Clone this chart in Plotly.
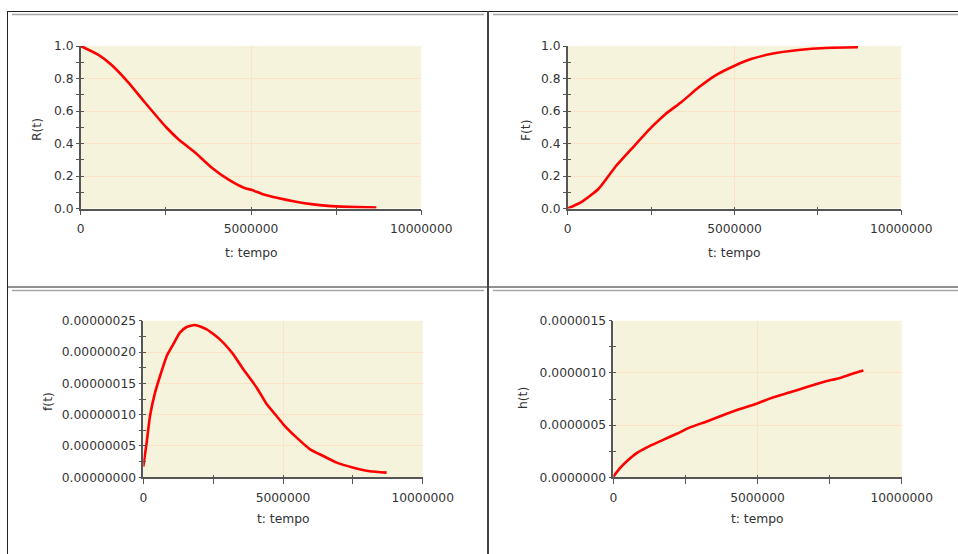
import plotly.graph_objects as go

# ---- data ----
t_R = [0, 0.51e6, 0.9e6, 1.39e6, 1.88e6, 2.51e6, 2.86e6, 3.35e6, 3.84e6, 4.32e6, 4.81e6, 5.01e6,
       5.4e6, 5.79e6, 6.28e6, 6.77e6, 7.26e6, 7.85e6, 8.68e6]
R_vals = [1.0, 0.947, 0.885, 0.778, 0.654, 0.500, 0.428, 0.346, 0.253, 0.181, 0.126, 0.115,
          0.084, 0.064, 0.043, 0.027, 0.016, 0.010, 0.006]

t_F = [0, 0.42e6, 0.92e6, 1.42e6, 1.92e6, 2.52e6, 2.92e6, 3.42e6, 3.92e6, 4.42e6, 5.02e6,
       5.52e6, 6.12e6, 6.92e6, 7.72e6, 8.7e6]
F_vals = [0.0, 0.041, 0.12, 0.254, 0.368, 0.502, 0.579, 0.657, 0.744, 0.818, 0.880,
          0.921, 0.952, 0.975, 0.988, 0.992]

t_f = [0, 0.12e6, 0.24e6, 0.42e6, 0.60e6, 0.84e6, 1.07e6, 1.31e6, 1.55e6, 1.85e6, 2.27e6, 2.74e6,
       3.22e6, 3.58e6, 4.06e6, 4.42e6, 4.77e6, 5.01e6, 5.49e6, 5.97e6, 6.44e6, 6.92e6, 7.52e6,
       8.11e6, 8.71e6]
f_vals = [0.17e-7, 0.553e-7, 0.979e-7, 1.351e-7, 1.617e-7, 1.936e-7, 2.122e-7, 2.309e-7, 2.399e-7,
          2.431e-7, 2.362e-7, 2.202e-7, 1.963e-7, 1.723e-7, 1.431e-7, 1.165e-7, 0.979e-7, 0.846e-7,
          0.633e-7, 0.447e-7, 0.340e-7, 0.234e-7, 0.154e-7, 0.096e-7, 0.074e-7]

t_h = [0, 0.23e6, 0.46e6, 0.81e6, 1.27e6, 1.73e6, 2.2e6, 2.66e6, 3.24e6, 3.82e6, 4.39e6, 4.97e6,
       5.55e6, 6.13e6, 6.71e6, 7.28e6, 7.86e6, 8.32e6, 8.67e6]
h_vals = [0.06e-7, 0.87e-7, 1.51e-7, 2.31e-7, 3.01e-7, 3.59e-7, 4.17e-7, 4.78e-7, 5.35e-7, 5.96e-7,
          6.54e-7, 7.05e-7, 7.66e-7, 8.14e-7, 8.65e-7, 9.13e-7, 9.52e-7, 9.94e-7, 10.22e-7]

x_title = "t: tempo"
y_titles = ["R(t)", "F(t)", "f(t)", "h(t)"]
y_ranges = [[0, 1.0], [0, 1.0], [0, 0.00000025], [0, 0.0000015]]
y_dticks = [0.2, 0.2, 0.00000005, 0.0000005]
y_formats = [".1f", ".1f", ".8f", ".7f"]
x_range = [0, 10000000]

W, H = 958, 554
def px(x):
    return x / W
def py(y):
    return 1 - y / H

# plot areas in pixels: (x0, x1, ytop, ybottom)
areas = [(80.7, 421.3, 46, 208.5), (567.7, 901.3, 46, 208.5),
         (143.3, 422.7, 320.7, 477.3), (613.3, 901.7, 320.7, 477.3)]
# axis-title positions (pixels)
ytitle_pos = [(37, 130), (526, 130), (48, 402), (523, 398)]
xtitle_pos = [(251, 253), (734, 253), (283, 519), (757, 519)]

FONT = "DejaVu Sans"
FS = 12.3
TXT = "#333333"
BG = "#F5F3DC"
GRID = "#FCE3C6"
AX = "#555555"

fig = go.Figure()
series = [(t_R, R_vals), (t_F, F_vals), (t_f, f_vals), (t_h, h_vals)]
layout = {}
annotations = []
for i, ((xs, ys), (x0, x1, yt, yb)) in enumerate(zip(series, areas)):
    n = i + 1
    m = i + 5
    fig.add_trace(go.Scatter(x=xs, y=ys, mode="lines", line=dict(color="#FF0000", width=2.6, shape="spline", smoothing=0.5),
                             xaxis=f"x{n}", yaxis=f"y{n}", showlegend=False, hoverinfo="skip"))
    fig.add_trace(go.Scatter(x=[], y=[], xaxis=f"x{m}", yaxis=f"y{m}", showlegend=False, hoverinfo="skip"))
    dom_x = [px(x0), px(x1)]
    dom_y = [py(yb), py(yt)]
    layout[f"xaxis{n}"] = dict(domain=dom_x, anchor=f"y{n}", range=x_range, dtick=5000000,
                                tick0=0, tickformat="d", showgrid=True, gridcolor=GRID, gridwidth=1,
                                zeroline=False, showline=True, linecolor=AX, linewidth=1.5,
                                ticks="outside", ticklen=5, tickcolor=AX, tickwidth=1, automargin=False,
                                ticklabelstandoff=3,
                                minor=dict(dtick=2500000, tick0=0, ticks="outside", ticklen=5, tickcolor=AX, showgrid=False),
                                tickfont=dict(family=FONT, size=FS, color=TXT), fixedrange=True)
    layout[f"yaxis{n}"] = dict(domain=dom_y, anchor=f"x{n}", range=y_ranges[i], dtick=y_dticks[i],
                                tick0=0, tickformat=y_formats[i], showgrid=True, gridcolor=GRID, gridwidth=1,
                                zeroline=False, showline=True, linecolor=AX, linewidth=1.5,
                                ticks="outside", ticklen=3, tickcolor=AX, tickwidth=1, automargin=False,
                                minor=dict(dtick=y_dticks[i] / 2, tick0=0, ticks="outside", ticklen=3, tickcolor=AX, showgrid=False),
                                tickfont=dict(family=FONT, size=FS, color=TXT), fixedrange=True)
    # overlay axes for inside halves of the crossing ticks
    layout[f"xaxis{m}"] = dict(overlaying=f"x{n}", domain=dom_x, anchor=f"y{m}", range=x_range, dtick=5000000, tick0=0,
                                showgrid=False, zeroline=False, showline=False, showticklabels=False,
                                ticks="inside", ticklen=2, tickcolor=AX, automargin=False, fixedrange=True,
                                minor=dict(dtick=2500000, tick0=0, ticks="inside", ticklen=2, tickcolor=AX, showgrid=False))
    layout[f"yaxis{m}"] = dict(overlaying=f"y{n}", domain=dom_y, anchor=f"x{m}", range=y_ranges[i], dtick=y_dticks[i], tick0=0,
                                showgrid=False, zeroline=False, showline=False, showticklabels=False,
                                ticks="inside", ticklen=3, tickcolor=AX, automargin=False, fixedrange=True,
                                minor=dict(dtick=y_dticks[i] / 2, tick0=0, ticks="inside", ticklen=3, tickcolor=AX, showgrid=False))
    # plot background
    fig.add_shape(type="rect", xref="paper", yref="paper", x0=px(x0), x1=px(x1), y0=py(yb), y1=py(yt),
                  fillcolor=BG, line=dict(width=0), layer="below")
    tx, ty = ytitle_pos[i]
    annotations.append(dict(text=y_titles[i], x=px(tx), y=py(ty), xref="paper", yref="paper",
                            xanchor="center", yanchor="middle", textangle=-90, showarrow=False,
                            font=dict(family=FONT, size=FS, color=TXT)))
    tx, ty = xtitle_pos[i]
    annotations.append(dict(text=x_title, x=px(tx), y=py(ty), xref="paper", yref="paper",
                            xanchor="center", yanchor="middle", showarrow=False,
                            font=dict(family=FONT, size=FS, color=TXT)))

# frame lines
def hline(y, xa, xb, color, width):
    fig.add_shape(type="line", xref="paper", yref="paper", x0=px(xa), x1=px(xb), y0=py(y), y1=py(y),
                  line=dict(color=color, width=width))
def vline(x, ya, yb, color, width):
    fig.add_shape(type="line", xref="paper", yref="paper", x0=px(x), x1=px(x), y0=py(ya), y1=py(yb),
                  line=dict(color=color, width=width))

hline(11.5, 7, 958, "#222222", 1)
hline(287, 7, 958, "#222222", 1)
hline(14.5, 12, 484, "#A8A8A8", 1.5)
hline(14.5, 493, 958, "#A8A8A8", 1.5)
hline(290.5, 12, 484, "#A8A8A8", 1.5)
hline(290.5, 493, 958, "#A8A8A8", 1.5)
vline(7.5, 11, 554, "#222222", 1)
vline(488, 11, 554, "#444444", 2)

fig.update_layout(**layout)
fig.update_layout(width=W, height=H, margin=dict(l=0, r=0, t=0, b=0, pad=0), autosize=False,
                  paper_bgcolor="white", plot_bgcolor="rgba(0,0,0,0)",
                  annotations=annotations, showlegend=False,
                  font=dict(family=FONT, size=FS, color=TXT))
fig.write_html("out.html", config={"displayModeBar": False},
               post_script="document.body.style.margin='0';document.body.style.overflow='hidden';"
                           "document.documentElement.style.overflow='hidden';")
